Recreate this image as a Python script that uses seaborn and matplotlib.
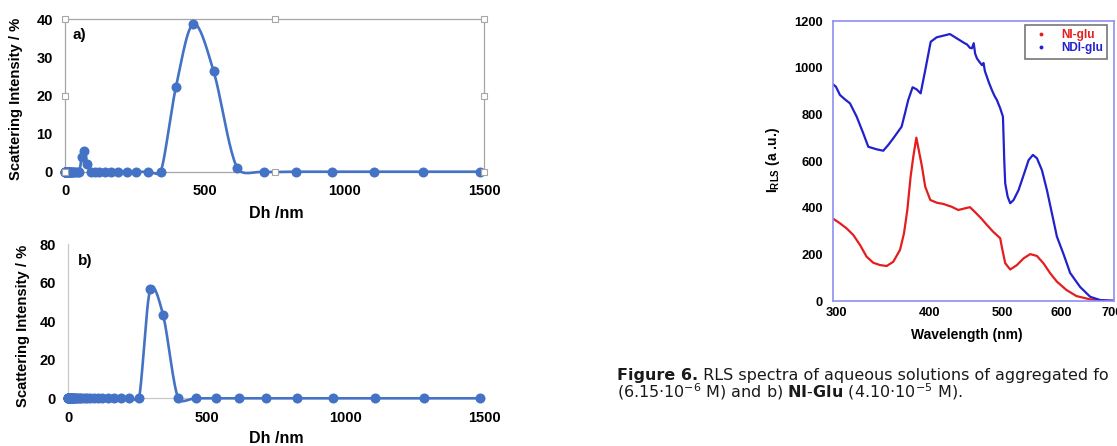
import numpy as np
import pandas as pd
import seaborn as sns
import matplotlib.pyplot as plt
from matplotlib.lines import Line2D
from matplotlib.ticker import NullLocator

# DLS size classes (nm)
dh_nm = [0.4, 0.4632, 0.5365, 0.6213, 0.7195, 0.8332, 0.9649, 1.117, 1.294, 1.499,
         1.736, 2.01, 2.328, 2.696, 3.122, 3.615, 4.187, 4.849, 5.615, 6.503,
         7.531, 8.721, 10.1, 11.7, 13.54, 15.69, 18.17, 21.04, 24.36, 28.21,
         32.67, 37.84, 43.82, 50.75, 58.77, 68.06, 78.82, 91.28, 105.7, 122.4,
         141.8, 164.2, 190.1, 220.2, 255.0, 295.3, 342.0, 396.1, 458.7, 531.2,
         615.1, 712.4, 825.0, 955.4, 1106, 1281, 1484]
# scattering intensity (%) panel a) and b)
int_a = [0] * 34 + [3.9, 5.5, 2.0] + [0] * 10 + [22.1, 38.8, 26.4, 1.1] + [0] * 6
int_b = [0] * 45 + [56.8, 43.1] + [0] * 10

# RLS spectra
wl_ni = [297.0, 303.7, 310.0, 316.4, 323.0, 329.6, 336.4, 343.4, 350.5, 357.7,
         365.2, 369.7, 373.5, 377.3, 380.4, 384.0, 390.7, 394.6, 400.8, 409.1,
         417.1, 427.9, 436.7, 445.8, 452.7, 459.2, 468.7, 476.9, 486.1, 496.8,
         499.2, 504.5, 512.3, 523.0, 533.9, 544.8, 556.1, 567.6, 579.2, 591.3,
         609.0, 628.0, 655.0, 691.5, 703.8]
rls_ni = [354, 333, 311, 283, 240, 190, 164, 154, 150, 168,
          219, 290, 390, 533, 618, 700, 576, 490, 433, 421,
          416, 404, 390, 397, 402, 383, 354, 326, 297, 269,
          233, 162, 135, 154, 183, 201, 193, 161, 119, 83,
          47, 21, 7, 1, 1]
wl_ndi = [297.0, 300.0, 303.7, 308.4, 313.2, 319.7, 326.2, 331.3, 340.0, 346.9,
          352.3, 357.7, 367.0, 370.8, 374.5, 379.6, 384.3, 389.1, 394.3, 401.3,
          408.7, 417.1, 425.7, 434.6, 445.8, 448.5, 452.7, 455.5, 458.0, 460.0,
          462.5, 466.0, 469.7, 472.0, 474.0, 476.9, 480.0, 484.3, 488.0, 491.8,
          496.8, 501.0, 502.0, 503.0, 504.5, 508.3, 512.3, 517.7, 525.7, 533.9,
          542.1, 549.3, 556.1, 564.7, 573.4, 582.3, 591.3, 603.6, 615.9, 635.1,
          655.0, 675.4, 703.8]
rls_ndi = [930, 918, 883, 864, 847, 790, 719, 661, 650, 644,
           669, 697, 747, 804, 861, 916, 907, 890, 983, 1111,
           1130, 1137, 1144, 1126, 1104, 1100, 1085, 1083, 1105, 1060,
           1040, 1025, 1011, 1020, 985, 961, 935, 904, 880, 861,
           826, 790, 700, 604, 504, 447, 419, 433, 476, 540,
           604, 626, 612, 561, 476, 376, 276, 200, 120, 60,
           18, 4, 1]

xl_blue = '#4472C4'
c_red = '#e41e1e'
c_blue = '#2222cc'
frame_c = '#8f8ff2'
grey = '#a6a6a6'

sns.set_theme(style='white')
plt.rcParams['font.family'] = ['Liberation Sans', 'DejaVu Sans']
plt.rcParams['mathtext.fontset'] = 'custom'
plt.rcParams['mathtext.rm'] = 'DejaVu Sans'
plt.rcParams['mathtext.bf'] = 'DejaVu Sans:bold'
plt.rcParams['mathtext.sf'] = 'Liberation Sans:bold'
for key in ['text.color', 'axes.labelcolor', 'xtick.color', 'ytick.color']:
    plt.rcParams[key] = 'black'


def smooth_line(x, y, sx, sy, n=24):
    # Excel-like smoothed line: Bezier through the points, done in screen units
    P = np.column_stack([np.asarray(x, float) * sx, np.asarray(y, float) * sy])
    P = np.vstack([P[0], P, P[-1]])
    t = np.linspace(0, 1, n)[:, None]
    segs = []
    for i in range(1, len(P) - 2):
        p0, p1, p2, p3 = P[i - 1], P[i], P[i + 1], P[i + 2]
        d12 = np.hypot(*(p2 - p1))
        d02 = np.hypot(*(p2 - p0)) + 1e-9
        d13 = np.hypot(*(p3 - p1)) + 1e-9
        f1 = min(1 / 6, 0.4 * d12 / d02)
        f2 = min(1 / 6, 0.4 * d12 / d13)
        b1 = p1 + (p2 - p0) * f1
        b2 = p2 - (p3 - p1) * f2
        segs.append((1 - t) ** 3 * p1 + 3 * (1 - t) ** 2 * t * b1
                    + 3 * (1 - t) * t ** 2 * b2 + t ** 3 * p2)
    S = np.vstack(segs)
    return S[:, 0] / sx, S[:, 1] / sy


fig = plt.figure(figsize=(11.17, 4.46), dpi=100)
W, H = 1117, 446


def px_axes(l, t, r, b):
    return fig.add_axes([l / W, 1 - b / H, (r - l) / W, (b - t) / H])


ax_a = px_axes(65.3, 19.3, 484, 171.7)
ax_b = px_axes(68.3, 244.3, 484.4, 398.3)
ax_c = px_axes(832.7, 21, 1113.7, 301)

for ax, yint, ymax, pw, ph in [(ax_a, int_a, 40, 418.7, 152.4),
                               (ax_b, int_b, 80, 416.1, 154.0)]:
    sx_, sy_ = smooth_line(dh_nm, yint, pw / 1500, ph / ymax)
    sns.lineplot(x=sx_, y=sy_, sort=False, estimator=None, ax=ax,
                 color=xl_blue, lw=1.9, clip_on=False, zorder=3)
    sns.scatterplot(x=dh_nm, y=yint, ax=ax, color=xl_blue, s=52,
                    linewidth=0, clip_on=False, zorder=4)
    ax.set_xlim(0, 1500)
    ax.set_ylim(0, ymax)
    ax.set_xticks([0, 500, 1000, 1500])
    ax.set_yticks(np.arange(0, ymax + 1, ymax / 4))
    ax.set_yticklabels([f'{v:.0f}' for v in np.arange(0, ymax + 1, ymax / 4)])
    ax.tick_params(length=0, labelsize=10.5, pad=9)
    for lab in ax.get_xticklabels() + ax.get_yticklabels():
        lab.set_fontweight('bold')
    ax.set_xlabel('Dh /nm', fontsize=11.5, fontweight='bold', va='center')
    ax.set_ylabel('Scattering Intensity / %', fontsize=10.6, fontweight='bold',
                  va='center')
    ax.set_facecolor('none')

ax_a.xaxis.set_label_coords(0.503, -0.271)
ax_a.yaxis.set_label_coords(-0.1177, 0.477)
ax_b.xaxis.set_label_coords(0.5, -0.258)
ax_b.yaxis.set_label_coords(-0.1096, 0.469)

for sp in ax_a.spines.values():
    sp.set_color(grey)
    sp.set_linewidth(0.9)
for name, sp in ax_b.spines.items():
    sp.set_color('#c8c8c8')
    sp.set_linewidth(0.9)
    sp.set_visible(name in ('left', 'bottom'))

# selection handles on the frame of panel a)
hx = [0, 0.5, 1, 0, 1, 0, 0.5, 1]
hy = [1, 1, 1, 0.5, 0.5, 0, 0, 0]
ax_a.plot(hx, hy, 's', ms=4.2, mfc='white', mec=grey, mew=0.8,
          transform=ax_a.transAxes, clip_on=False, zorder=6)

ax_a.text(0.018, 0.9, 'a)', transform=ax_a.transAxes, fontsize=11,
          fontweight='bold', va='center')
ax_b.text(0.022, 0.89, 'b)', transform=ax_b.transAxes, fontsize=11,
          fontweight='bold', va='center')

# RLS spectra
sns.lineplot(x=wl_ni, y=rls_ni, sort=False, estimator=None, ax=ax_c,
             color=c_red, lw=1.6)
sns.lineplot(x=wl_ndi, y=rls_ndi, sort=False, estimator=None, ax=ax_c,
             color=c_blue, lw=1.6)
ax_c.set_xscale('log')
ax_c.set_xlim(297, 704)
ax_c.set_ylim(0, 1200)
ax_c.set_xticks([300, 400, 500, 600, 700])
ax_c.set_xticklabels(['300', '400', '500', '600', '700'])
ax_c.xaxis.set_minor_locator(NullLocator())
ax_c.set_yticks(range(0, 1201, 200))
ax_c.tick_params(length=0, labelsize=9.3)
ax_c.tick_params(axis='y', pad=7)
ax_c.tick_params(axis='x', pad=4)
for lab in ax_c.get_xticklabels() + ax_c.get_yticklabels():
    lab.set_fontweight('bold')
for sp in ax_c.spines.values():
    sp.set_color(frame_c)
    sp.set_linewidth(1.2)
ax_c.set_xlabel('Wavelength (nm)', fontsize=10, fontweight='bold', va='center')
ax_c.set_ylabel(r'$\mathsf{I_{RLS}}$ (a .u.)', fontsize=10, fontweight='bold',
                va='center')
ax_c.xaxis.set_label_coords(0.478, -0.121)
ax_c.yaxis.set_label_coords(-0.2125, 0.504)

handles = [Line2D([], [], ls='', marker='o', ms=1.8, color=c_red),
           Line2D([], [], ls='', marker='o', ms=1.8, color=c_blue)]
leg = ax_c.legend(handles, ['NI-glu', 'NDI-glu'], loc='upper right',
                  bbox_to_anchor=(0.976, 0.986), borderaxespad=0,
                  frameon=True, fancybox=False, edgecolor='#555555',
                  labelcolor=[c_red, c_blue], handlelength=2.0,
                  handletextpad=0.7, borderpad=0.35, labelspacing=0.12,
                  prop={'weight': 'bold', 'size': 8.5})
leg.get_frame().set_linewidth(1.2)

# caption
cap1 = fig.text(617 / W, 1 - 380 / H, 'Figure 6.', family='DejaVu Sans',
                fontsize=11.5, fontweight='bold', va='baseline', color='#1a1a1a')
ax_c.annotate(' RLS spectra of aqueous solutions of aggregated fo',
              xy=(1, 0), xycoords=cap1, va='bottom', ha='left',
              family='DejaVu Sans', fontsize=11.5, color='#1a1a1a',
              annotation_clip=False)
fig.text(617 / W, 1 - 397 / H,
         r'(6.15·$10^{-6}$ M) and b) $\mathbf{NI}$-$\mathbf{Glu}$ (4.10·$10^{-5}$ M).',
         family='DejaVu Sans', fontsize=11.5, va='baseline', color='#1a1a1a')

fig.savefig('out.png', dpi=100)
